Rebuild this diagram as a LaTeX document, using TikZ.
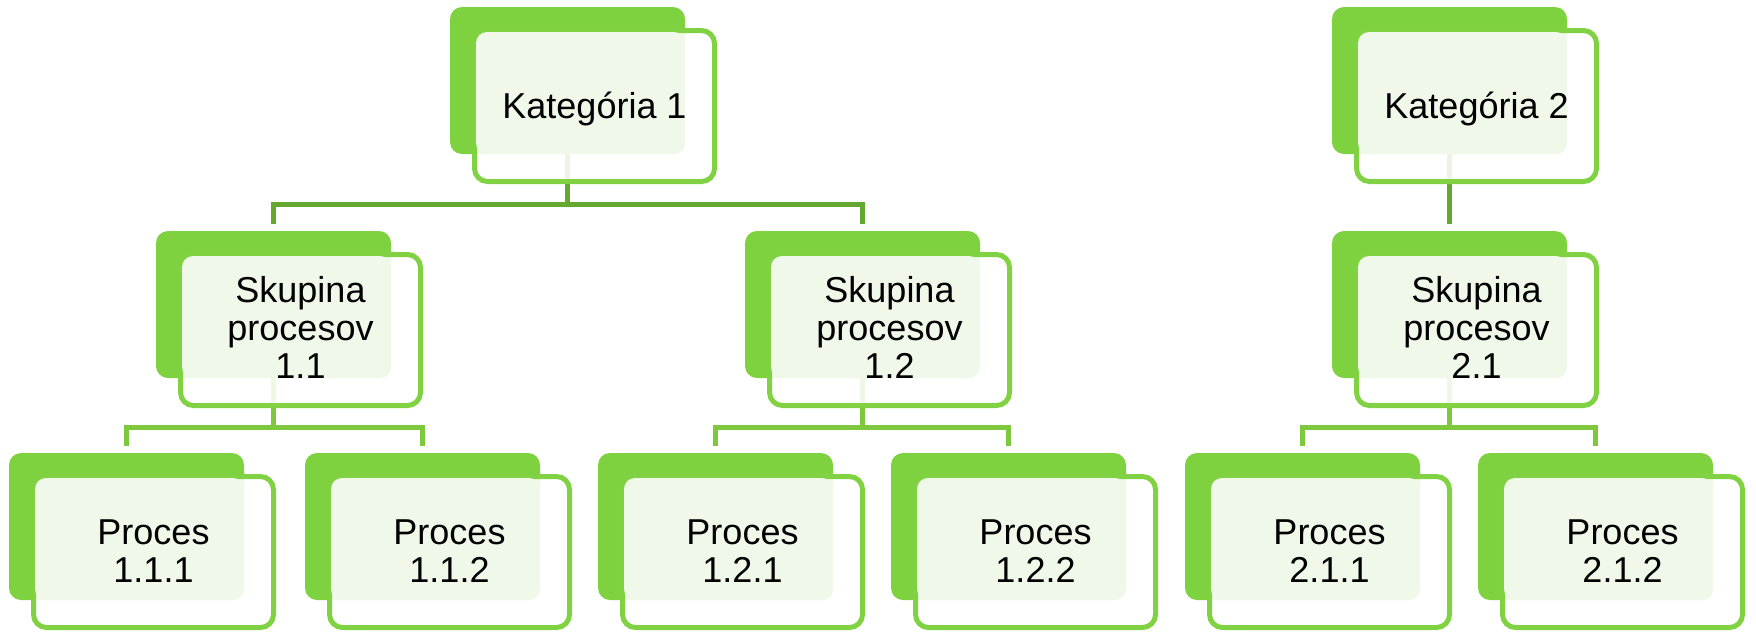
\documentclass[tikz,border=0pt]{standalone}
\usepackage{fontspec}
\setmainfont{Liberation Sans}
\pgfdeclarelayer{bg}
\pgfsetlayers{bg,main}
\definecolor{gback}{RGB}{126,209,63}
\definecolor{gfront}{RGB}{128,210,66}
\definecolor{glight}{RGB}{240,248,233}
\definecolor{gconnA}{RGB}{100,168,48}
\definecolor{gconnB}{RGB}{125,200,60}
\tikzset{
 backbox/.style={rectangle, rounded corners=12pt, fill=gback, minimum width=235pt, minimum height=147pt, inner sep=0pt, outer sep=0pt, anchor=north west},
 frontbox/.style={rectangle, rounded corners=13pt, draw=gfront, line width=5pt, fill=white, fill opacity=0.88, minimum width=240pt, minimum height=151pt, inner sep=0pt, outer sep=0pt, anchor=north west},
 textbg/.style={rectangle, rounded corners=11pt, fill=glight, minimum width=209pt, minimum height=122pt, inner sep=0pt, outer sep=0pt, anchor=north west},
 boxtext/.style={align=center, inner sep=0pt, font=\fontsize{36}{38}\selectfont, anchor=base},
 connA/.style={draw=gconnA, line width=5pt},
 connB/.style={draw=gconnB, line width=5pt},
}
\newcommand\mkunit[5]{%
 \begin{scope}[shift={(#2,#3)}]
  \node[backbox] (#1) at (0,0) {};
  \node[frontbox] (#1f) at (24.5,23.5) {};
  \node[textbg] (#1t) at (26,25) {};
  \begin{scope}
   \clip[rounded corners=11pt] (#1t.north west) rectangle (#1t.south east);
   \node[boxtext] (#1l) at (144.5,#5) {#4};
  \end{scope}
 \end{scope}}
\begin{document}
\begin{tikzpicture}[x=1pt,y=-1pt]
\useasboundingbox (0,0) rectangle (1756,633);
\mkunit{ka}{450}{7}{Kategória 1}{111}
\mkunit{kb}{1332}{7}{Kategória 2}{111}
\mkunit{sa}{156}{231}{Skupina\\procesov\\1.1}{147}
\mkunit{sb}{745}{231}{Skupina\\procesov\\1.2}{147}
\mkunit{sc}{1332}{231}{Skupina\\procesov\\2.1}{147}
\mkunit{pa}{9}{453}{Proces\\1.1.1}{129}
\mkunit{pb}{305}{453}{Proces\\1.1.2}{129}
\mkunit{pc}{598}{453}{Proces\\1.2.1}{129}
\mkunit{pd}{891}{453}{Proces\\1.2.2}{129}
\mkunit{pe}{1185}{453}{Proces\\2.1.1}{129}
\mkunit{pf}{1478}{453}{Proces\\2.1.2}{129}
\begin{pgfonlayer}{bg}
\draw[connA] (ka.south) -- ++(0,50) -| ([yshift=7pt]sa.north);
\draw[connA] (ka.south) -- ++(0,50) -| ([yshift=7pt]sb.north);
\draw[connA] (kb.south) -- ([yshift=7pt]sc.north);
\draw[connB] (sa.south) -- ++(0,49) -| ([yshift=7pt]pa.north);
\draw[connB] (sa.south) -- ++(0,49) -| ([yshift=7pt]pb.north);
\draw[connB] (sb.south) -- ++(0,49) -| ([yshift=7pt]pc.north);
\draw[connB] (sb.south) -- ++(0,49) -| ([yshift=7pt]pd.north);
\draw[connB] (sc.south) -- ++(0,49) -| ([yshift=7pt]pe.north);
\draw[connB] (sc.south) -- ++(0,49) -| ([yshift=7pt]pf.north);
\end{pgfonlayer}
\end{tikzpicture}
\end{document}
